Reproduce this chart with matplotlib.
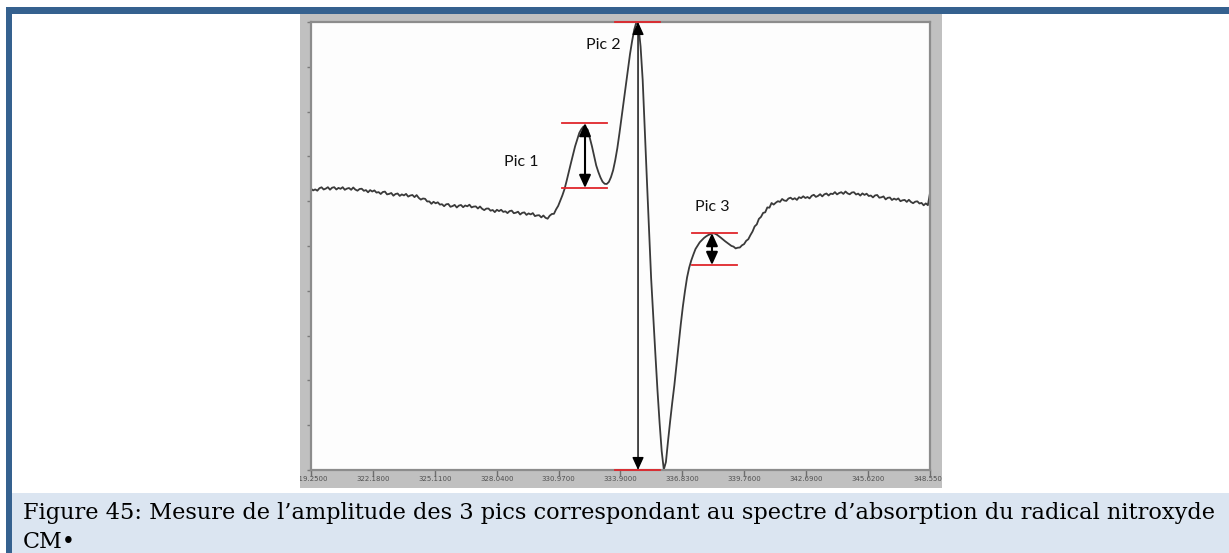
import numpy as np
import matplotlib
matplotlib.use("Agg")
import matplotlib.pyplot as plt
from matplotlib.patches import Rectangle

W, H = 1229, 553
RULE_BLUE = "#35618f"
CAPTION_BG = "#dbe5f1"
FRAME_GREY = "#c0c0c0"
TRACE = "#3a3a3a"
RED = "#e0252b"

# EPR trace of the CM nitroxide radical, sampled every 0.1 G from 319.25 G
FIELD_START, FIELD_STEP = 319.25, 0.1
SIGNAL = [
    281.3, 279.6, 280.6, 279.3, 281.8, 282.7, 280.5, 281.4, 282.8, 280.3,
    282.3, 282.8, 280.5, 282.1, 281.2, 282.8, 280.2, 281.4, 282.0, 280.2,
    282.5, 280.4, 279.3, 281.0, 281.3, 279.2, 279.9, 277.7, 279.9, 278.5,
    279.6, 277.4, 277.9, 276.0, 278.0, 278.4, 275.6, 276.1, 277.0, 274.3,
    276.0, 276.5, 274.1, 275.6, 274.6, 276.1, 273.4, 274.5, 275.0, 272.9,
    274.9, 272.1, 270.4, 271.5, 271.2, 268.5, 268.6, 266.2, 268.2, 266.7,
    267.7, 265.4, 265.8, 263.8, 265.7, 266.0, 263.2, 263.9, 265.1, 262.5,
    264.4, 265.0, 262.8, 264.5, 263.7, 265.3, 262.6, 263.4, 263.6, 261.5,
    263.5, 261.2, 259.9, 261.4, 261.5, 259.3, 260.0, 257.9, 260.2, 258.9,
    260.2, 258.1, 258.7, 256.9, 258.9, 259.4, 256.8, 257.3, 258.3, 255.5,
    257.2, 257.6, 255.1, 256.6, 255.6, 256.9, 253.9, 254.6, 254.8, 252.6,
    254.5, 252.2, 251.3, 254.3, 256.0, 256.2, 260.6, 264.1, 269.3, 274.7,
    280.9, 289.1, 297.9, 306.6, 315.0, 323.6, 330.4, 337.1, 340.9, 343.5,
    342.2, 340.1, 332.0, 323.6, 314.3, 304.6, 298.1, 292.6, 288.3, 286.2,
    286.0, 288.1, 292.9, 299.7, 309.7, 321.8, 336.7, 352.5, 368.2, 384.0,
    400.5, 415.9, 429.0, 440.3, 447.7, 444.0, 423.6, 390.0, 338.7, 289.7,
    240.7, 191.7, 153.3, 116.2, 79.8, 47.3, 18.8, 0.5, 8.0, 29.0,
    48.8, 67.5, 84.9, 105.0, 125.6, 145.1, 163.2, 178.7, 192.5, 202.3,
    209.6, 215.5, 221.0, 224.3, 227.7, 229.9, 232.0, 233.6, 234.9, 235.8,
    236.8, 236.5, 235.5, 233.9, 232.3, 230.5, 228.8, 227.2, 225.5, 224.1,
    223.4, 221.6, 222.3, 222.5, 224.7, 225.9, 229.2, 230.8, 234.9, 238.5,
    243.6, 245.6, 251.1, 253.1, 257.1, 257.7, 262.6, 262.3, 267.0, 265.4,
    267.3, 268.8, 268.1, 271.0, 269.5, 269.1, 271.5, 272.3, 270.6, 271.8,
    270.1, 272.8, 271.9, 273.7, 272.0, 273.0, 271.6, 274.2, 275.2, 273.1,
    274.1, 275.8, 273.6, 275.7, 276.5, 274.5, 276.4, 275.9, 277.9, 275.6,
    277.0, 277.8, 276.1, 278.5, 276.6, 275.7, 277.5, 277.8, 275.5, 276.4,
    274.4, 276.6, 275.1, 276.3, 274.0, 274.5, 272.6, 274.6, 275.0, 272.3,
    272.7, 273.6, 270.6, 272.2, 272.5, 270.0, 271.4, 270.3, 271.6, 268.8,
    269.7, 270.1, 268.1, 270.2, 268.0, 266.8, 268.3, 268.7, 266.5, 267.1,
    264.7, 266.6, 264.8, 277.0,
]
SIGNAL_MAX = 448.0

TICK_FIELDS = [319.25, 322.18, 325.11, 328.04, 330.97, 333.90,
               336.83, 339.76, 342.69, 345.62, 348.55]
TICK_LABELS = ["319.2500", "322.1800", "325.1100", "328.0400", "330.9700", "333.9000",
               "336.8300", "339.7600", "342.6900", "345.6200", "348.5500"]

# amplitude measurement of each line
PEAK_NAMES = ["Pic 1", "Pic 2", "Pic 3"]
PEAK_FIELD = [332.22, 334.73, 338.23]
PEAK_LOW = [282.0, 0.0, 205.0]
PEAK_HIGH = [347.0, 448.0, 237.0]
PEAK_SPAN_FROM = [331.13, 333.64, 337.28]
PEAK_SPAN_TO = [333.26, 335.77, 339.41]
LABEL_FIELD = [329.19, 333.07, 338.23]
LABEL_SIGNAL = [308.0, 425.0, 263.0]

CAPTION_1 = ("Figure 45: Mesure de l\u2019amplitude des 3 pics correspondant au "
             "spectre d\u2019absorption du radical nitroxyde")
CAPTION_2 = "CM\u2022"

fig = plt.figure(figsize=(W / 100, H / 100), dpi=100)
fig.patch.set_facecolor("white")

# page decoration, in pixel units
bg = fig.add_axes([0, 0, 1, 1], zorder=0)
bg.set_xlim(0, W); bg.set_ylim(H, 0); bg.axis("off")
bg.add_patch(Rectangle((6, 7), W - 6, 7, fc=RULE_BLUE, ec="none"))
bg.add_patch(Rectangle((6, 7), 6, H - 7, fc=RULE_BLUE, ec="none"))
bg.add_patch(Rectangle((12, 493), W - 12, H - 493, fc=CAPTION_BG, ec="none"))
frame = Rectangle((300, 14), 642, 474, fc=FRAME_GREY, ec="none")
bg.add_patch(frame)

cap1 = bg.text(23, 519, CAPTION_1, family="DejaVu Serif", fontsize=16,
               va="baseline", ha="left", color="black")
bg.text(23, 548, CAPTION_2, family="DejaVu Serif", fontsize=16,
        va="baseline", ha="left", color="black")
fig.canvas.draw()
w = cap1.get_window_extent(fig.canvas.get_renderer()).width
cap1.set_fontsize(16 * 1196 / w)

# spectrum panel
ax = fig.add_axes([311 / W, 1 - 470 / H, (930 - 311) / W, 448 / H], zorder=1)
ax.set_facecolor("#fdfdfd")
field = FIELD_START + FIELD_STEP * np.arange(len(SIGNAL))
ax.plot(field, SIGNAL, color=TRACE, lw=1.3, solid_joinstyle="round")
ax.set_xlim(TICK_FIELDS[0], TICK_FIELDS[-1])
ax.set_ylim(0, SIGNAL_MAX)

for sp in ax.spines.values():
    sp.set_color("#8c8c8c"); sp.set_linewidth(1.6)
ax.set_xticks(TICK_FIELDS)
ax.set_xticklabels([])
ax.set_yticks(np.linspace(0, SIGNAL_MAX, 11))
ax.set_yticklabels([])
ax.tick_params(axis="x", direction="out", length=4, width=1, color="#6e6e6e")
ax.tick_params(axis="y", direction="out", length=3, width=1, color="#7a7a7a", pad=1)

for f, lab in zip(TICK_FIELDS, TICK_LABELS):
    t = ax.text(f, -0.019, lab, transform=ax.get_xaxis_transform(), ha="center",
                va="center", fontsize=5, color="#505050", clip_on=True)
    t.set_clip_path(frame)

for name, f, lo, hi, a, b, lx, ly in zip(PEAK_NAMES, PEAK_FIELD, PEAK_LOW, PEAK_HIGH,
                                         PEAK_SPAN_FROM, PEAK_SPAN_TO,
                                         LABEL_FIELD, LABEL_SIGNAL):
    for level in (lo, hi):
        ax.plot([a, b], [level, level], color=RED, lw=1.3, clip_on=False, zorder=3)
    shaft = 1.0 if name == "Pic 2" else 1.5
    ax.annotate("", xy=(f, hi), xytext=(f, lo), annotation_clip=False,
                arrowprops=dict(arrowstyle="<|-|>,head_length=0.55,head_width=0.25",
                                color="black", lw=shaft, mutation_scale=14,
                                shrinkA=0, shrinkB=0), zorder=4)
    ax.text(lx, ly, name, family="Lato", fontsize=11.5, ha="center", va="center",
            color="#111111")

fig.savefig("out.png", dpi=100)
